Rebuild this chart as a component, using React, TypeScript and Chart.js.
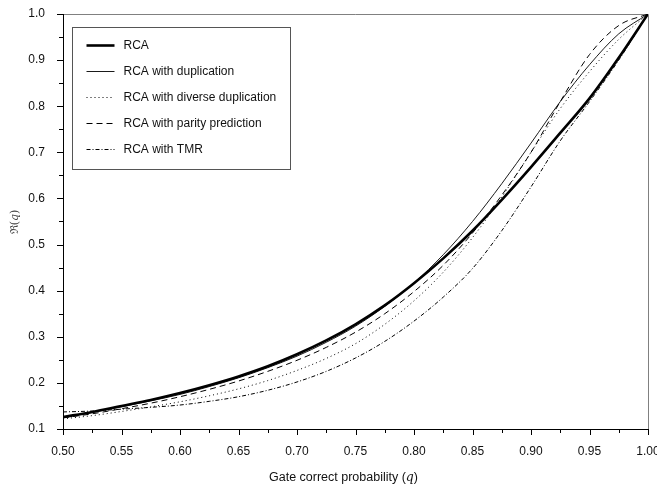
import React, { useEffect, useRef } from "react";
import { Chart, registerables } from "chart.js";

Chart.register(...registerables);

// Gate correct probability q (x values)
const qValues = [
  0.5, 0.525, 0.55, 0.575, 0.6, 0.625, 0.65, 0.675, 0.7, 0.725, 0.75,
  0.775, 0.8, 0.825, 0.85, 0.875, 0.9, 0.925, 0.95, 0.975, 1.0,
];

// Reliability R(q) of each adder variant
const rca = [
  0.126, 0.137, 0.15, 0.163, 0.178, 0.195, 0.214, 0.236, 0.262, 0.292, 0.327,
  0.368, 0.416, 0.47, 0.53, 0.597, 0.668, 0.742, 0.817, 0.905, 1.0,
];
const rcaDuplication = [
  0.126, 0.136, 0.148, 0.161, 0.175, 0.192, 0.211, 0.233, 0.258, 0.288, 0.323,
  0.366, 0.417, 0.478, 0.55, 0.632, 0.72, 0.81, 0.89, 0.957, 1.0,
];
const rcaDiverseDuplication = [
  0.122, 0.129, 0.138, 0.148, 0.159, 0.172, 0.187, 0.205, 0.227, 0.253, 0.285,
  0.327, 0.378, 0.44, 0.515, 0.603, 0.7, 0.795, 0.875, 0.945, 1.0,
];
const rcaParity = [
  0.124, 0.133, 0.144, 0.156, 0.17, 0.186, 0.204, 0.225, 0.249, 0.277, 0.31,
  0.35, 0.398, 0.455, 0.525, 0.607, 0.7, 0.81, 0.912, 0.975, 1.0,
];
const rcaTmr = [
  0.137, 0.139, 0.143, 0.147, 0.152, 0.16, 0.17, 0.184, 0.202, 0.225, 0.254,
  0.29, 0.334, 0.386, 0.448, 0.53, 0.625, 0.725, 0.81, 0.9, 1.0,
];

const seriesLabels = [
  "RCA",
  "RCA with duplication",
  "RCA with diverse duplication",
  "RCA with parity prediction",
  "RCA with TMR",
];

// Axis ranges and tick steps
const xMin = 0.5;
const xMax = 1.0;
const xMajorStep = 0.05;
const yMin = 0.1;
const yMax = 1.0;
const yMajorStep = 0.1;

const xTitle = "Gate correct probability";
const yTitle = "\u211C";

const FONT = "'Liberation Sans', Arial, Helvetica, sans-serif";
const SERIF = "'DejaVu Serif', 'Liberation Serif', serif";

type LineStyle = { width: number; dash: number[] };
const lineStyles: LineStyle[] = [
  { width: 2.6, dash: [] },
  { width: 0.9, dash: [] },
  { width: 1, dash: [1, 3] },
  { width: 1, dash: [6, 4] },
  { width: 1, dash: [4, 2, 1, 2] },
];

const seriesValues = [rca, rcaDuplication, rcaDiverseDuplication, rcaParity, rcaTmr];

// Keep the plot area fixed: no extra room for overhanging end labels
const noOverhang = (s: any) => {
  s.paddingTop = 0;
  s.paddingBottom = 0;
  s.paddingLeft = 0;
  s.paddingRight = 0;
};

// Frame, tick marks, axis titles and the boxed legend
const decorations = {
  id: "decorations",
  beforeDatasetsDraw(chart: any) {
    const { ctx, chartArea } = chart;
    const { left, right, top, bottom } = chartArea;
    const xs = chart.scales.x;
    const ys = chart.scales.y;
    ctx.save();
    // top and right frame
    ctx.strokeStyle = "#808080";
    ctx.lineWidth = 1;
    ctx.beginPath();
    ctx.moveTo(left, top + 0.5);
    ctx.lineTo(right + 0.5, top + 0.5);
    ctx.lineTo(right + 0.5, bottom);
    ctx.stroke();
    // left and bottom axes
    ctx.strokeStyle = "#000";
    ctx.beginPath();
    ctx.moveTo(left + 0.5, top);
    ctx.lineTo(left + 0.5, bottom + 0.5);
    ctx.lineTo(right + 1, bottom + 0.5);
    ctx.stroke();
    // x ticks (major every 0.05, minor in between)
    ctx.beginPath();
    const nx = Math.round((xMax - xMin) / (xMajorStep / 2));
    for (let i = 0; i <= nx; i++) {
      const v = xMin + (i * xMajorStep) / 2;
      const px = Math.round(xs.getPixelForValue(v)) + 0.5;
      const len = i % 2 === 0 ? 6 : 4;
      ctx.moveTo(px, bottom);
      ctx.lineTo(px, bottom + len);
    }
    // y ticks (major every 0.1, minor in between)
    const ny = Math.round((yMax - yMin) / (yMajorStep / 2));
    for (let i = 0; i <= ny; i++) {
      const v = yMin + (i * yMajorStep) / 2;
      const py = Math.round(ys.getPixelForValue(v)) + 0.5;
      const len = i % 2 === 0 ? 6 : 4;
      ctx.moveTo(left, py);
      ctx.lineTo(left - len, py);
    }
    ctx.stroke();
    ctx.restore();
  },
  afterDraw(chart: any) {
    const { ctx, chartArea } = chart;
    const { left, right, top } = chartArea;
    ctx.save();
    ctx.fillStyle = "#111";
    // x axis title with italic q
    ctx.textBaseline = "middle";
    const partA = xTitle + " (";
    ctx.font = `italic 12.5px ${SERIF}`;
    const wq = ctx.measureText("q").width;
    ctx.font = `12.5px ${FONT}`;
    const wA = ctx.measureText(partA).width;
    const wB = ctx.measureText(")").width;
    const total = wA + wq + wB;
    const x0 = (left + right) / 2 - 12 - total / 2;
    const ty = 478;
    ctx.textAlign = "left";
    ctx.fillText(partA, x0, ty);
    ctx.font = `italic 12.5px ${SERIF}`;
    ctx.fillText("q", x0 + wA, ty);
    ctx.font = `12.5px ${FONT}`;
    ctx.fillText(")", x0 + wA + wq, ty);

    // y axis title, rotated
    ctx.save();
    ctx.translate(15, 222);
    ctx.rotate(-Math.PI / 2);
    ctx.fillStyle = "#444";
    ctx.textBaseline = "middle";
    ctx.font = `11px ${SERIF}`;
    const w1 = ctx.measureText(yTitle + "(").width;
    ctx.font = `italic 11px ${SERIF}`;
    const w2 = ctx.measureText("q").width;
    ctx.font = `11px ${SERIF}`;
    const w3 = ctx.measureText(")").width;
    const sx = -(w1 + w2 + w3) / 2;
    ctx.textAlign = "left";
    ctx.fillText(yTitle + "(", sx, 0);
    ctx.font = `italic 11px ${SERIF}`;
    ctx.fillText("q", sx + w1, 0);
    ctx.font = `11px ${SERIF}`;
    ctx.fillText(")", sx + w1 + w2, 0);
    ctx.restore();

    // legend box
    const bx = left + 9.5;
    const by = top + 13.5;
    const bw = 218;
    const bh = 142;
    ctx.fillStyle = "#fff";
    ctx.fillRect(bx, by, bw, bh);
    ctx.strokeStyle = "#555";
    ctx.lineWidth = 1;
    ctx.strokeRect(bx, by, bw, bh);
    const rowY0 = by + 17;
    const rowGap = 26;
    chart.data.datasets.forEach((ds: any, i: number) => {
      const y = Math.round(rowY0 + i * rowGap) + 0.5;
      ctx.strokeStyle = "#000";
      ctx.lineWidth = ds.borderWidth;
      ctx.setLineDash(ds.borderDash || []);
      ctx.beginPath();
      ctx.moveTo(bx + 14, y);
      ctx.lineTo(bx + 42, y);
      ctx.stroke();
      ctx.setLineDash([]);
      ctx.fillStyle = "#111";
      ctx.font = `12px ${FONT}`;
      ctx.textAlign = "left";
      ctx.textBaseline = "middle";
      ctx.fillText(ds.label, bx + 51, y);
    });
    ctx.restore();
  },
};

export default function App() {
  const canvasRef = useRef<HTMLCanvasElement | null>(null);

  useEffect(() => {
    if (!canvasRef.current) return;
    const datasets = seriesValues.map((vals, i) => ({
      label: seriesLabels[i],
      data: qValues.map((q, j) => ({ x: q, y: vals[j] })),
      borderColor: "#000",
      borderWidth: lineStyles[i].width,
      borderDash: lineStyles[i].dash,
      pointRadius: 0,
      fill: false,
      cubicInterpolationMode: "monotone" as const,
    }));

    const chart = new Chart(canvasRef.current, {
      type: "line",
      data: { datasets },
      options: {
        animation: false,
        responsive: false,
        maintainAspectRatio: false,
        layout: { padding: { top: 14, right: 9, left: 0, bottom: 0 } },
        plugins: {
          legend: { display: false },
          tooltip: { enabled: false },
        },
        scales: {
          x: {
            type: "linear",
            min: xMin,
            max: xMax,
            border: { display: false },
            grid: { display: false, drawTicks: false },
            afterFit: (s: any) => {
              s.height = 60;
              noOverhang(s);
            },
            ticks: {
              stepSize: xMajorStep,
              padding: 15,
              color: "#111",
              font: { family: FONT, size: 12 },
              maxRotation: 0,
              callback: (v: any) => Number(v).toFixed(2),
            },
          },
          y: {
            type: "linear",
            min: yMin,
            max: yMax,
            border: { display: false },
            grid: { display: false, drawTicks: false },
            afterFit: (s: any) => {
              s.width = 63;
              noOverhang(s);
            },
            ticks: {
              stepSize: yMajorStep,
              padding: 18,
              color: "#111",
              font: { family: FONT, size: 12 },
              callback: (v: any) => Number(v).toFixed(1),
            },
          },
        },
      },
      plugins: [decorations],
    });
    return () => chart.destroy();
  }, []);

  return (
    <div style={{ position: "fixed", left: 0, top: 0, width: 657, height: 489, background: "#fff" }}>
      <canvas ref={canvasRef} width={657} height={489} style={{ display: "block" }} />
    </div>
  );
}
